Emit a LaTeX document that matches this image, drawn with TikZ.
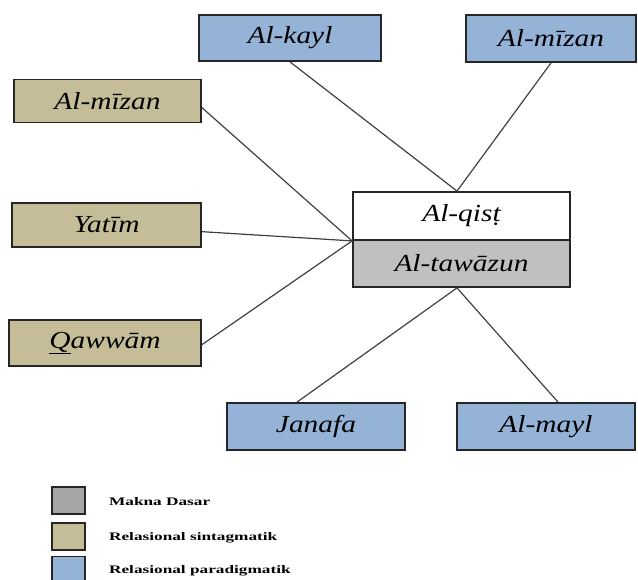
\documentclass[tikz,border=0pt]{standalone}
\usepackage{fontspec}
\setmainfont{Liberation Serif}
\usepackage{graphicx}
\newcommand\lbl[1]{\scalebox{1.2}[1]{#1}}
\newcommand\lgt[1]{\scalebox{1.5}[1]{#1}}
\definecolor{pblue}{HTML}{95B3D7}
\definecolor{stan}{HTML}{C4BD97}
\definecolor{cgray}{HTML}{C0C0C0}
\definecolor{lgray}{HTML}{A6A6A6}
\begin{document}
\begin{tikzpicture}[x=1pt,y=-1pt,
  box/.style={draw=black!85, line width=1.8pt, inner sep=0pt, font=\fontsize{24.5}{26}\selectfont\itshape},
  pbox/.style={box, fill=pblue},
  sbox/.style={box, fill=stan},
  link/.style={draw=black!75, line width=1.2pt},
  legsq/.style={draw=black!85, line width=1.8pt, minimum width=33pt, minimum height=27pt, inner sep=0pt},
  legtx/.style={anchor=west, inner sep=0pt, font=\fontsize{11.5}{12}\selectfont\bfseries}]
\useasboundingbox (0,0) rectangle (638,580);
% paradigmatic (blue)
\node[pbox, minimum width=182pt, minimum height=46pt] (kayl) at (290,38) {\lbl{Al-kayl}};
\node[pbox, minimum width=170pt, minimum height=47pt] (mizanT) at (551,38.5) {\lbl{Al-mīzan}};
\node[pbox, minimum width=178pt, minimum height=47pt] (janafa) at (316,426.5) {\lbl{Janafa}};
\node[pbox, minimum width=178pt, minimum height=47pt] (mayl) at (546,426.5) {\lbl{Al-mayl}};
% syntagmatic (tan)
\node[sbox, minimum width=187pt, minimum height=43pt] (mizanL) at (107.5,101) {\lbl{Al-mīzan}};
\node[sbox, minimum width=189pt, minimum height=44pt] (yatim) at (106.5,225) {\lbl{Yatīm}};
\node[sbox, minimum width=192pt, minimum height=46pt] (qawwam) at (105,343) {\lbl{\underline{Q}awwām}};
% centre
\node[box, fill=white, minimum width=217pt, minimum height=48pt] (qist) at (461.5,216) {\lbl{Al-qisṭ}};
\node[box, fill=cgray, minimum width=217pt, minimum height=47pt] (tawazun) at (461.5,263.5) {\lbl{Al-tawāzun}};
% connectors
\draw[link] (kayl.south) -- ([xshift=-4.5pt]qist.north);
\draw[link] (mizanT.south) -- ([xshift=-4.5pt]qist.north);
\draw[link] (mizanL.-4) -- (qist.south west);
\draw[link] (yatim.-4) -- (qist.south west);
\draw[link] (qawwam.-1) -- (qist.south west);
\draw[link] ([xshift=-4.5pt]tawazun.south) -- ([xshift=-19pt]janafa.north);
\draw[link] ([xshift=-4.5pt]tawazun.south) -- ([xshift=12pt]mayl.north);
% legend
\node[legsq, fill=lgray] (lg1) at (68.5,500.5) {};
\node[legsq, fill=stan] (lg2) at (68.5,536.5) {};
\node[legsq, fill=pblue] (lg3) at (68.5,570) {};
\node[legtx] (lt1) at ([xshift=23pt,yshift=-1pt]lg1.east) {\lgt{Makna Dasar}};
\node[legtx] (lt2) at ([xshift=23pt,yshift=-1pt]lg2.east) {\lgt{Relasional sintagmatik}};
\node[legtx] (lt3) at ([xshift=23pt,yshift=-1pt]lg3.east) {\lgt{Relasional paradigmatik}};
\end{tikzpicture}
\end{document}
